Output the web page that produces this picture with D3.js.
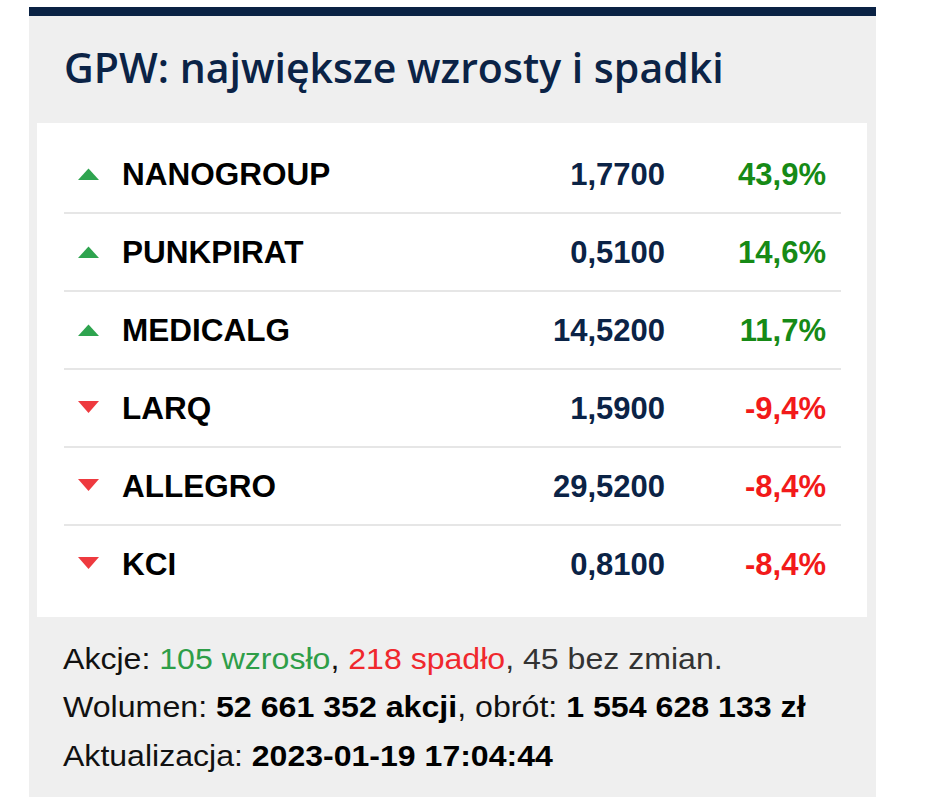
<!DOCTYPE html>
<html>
<head>
<meta charset="utf-8">
<script src="https://cdn.jsdelivr.net/npm/d3@7"></script>
<style>
  html, body { margin: 0; padding: 0; background: #ffffff; }
  svg { display: block; }
</style>
</head>
<body>
<div id="chart"></div>
<script>
// ---- data ----
const title = "GPW: największe wzrosty i spadki";
const names = ["NANOGROUP", "PUNKPIRAT", "MEDICALG", "LARQ", "ALLEGRO", "KCI"];
const prices = [1.77, 0.51, 14.52, 1.59, 29.52, 0.81];
const changes = [43.9, 14.6, 11.7, -9.4, -8.4, -8.4];
const countUp = 105;
const countDown = 218;
const countFlat = 45;
const volume = 52661352;
const turnover = 1554628133;
const updated = "2023-01-19 17:04:44";

// ---- formatting ----
const pl = d3.formatLocale({ decimal: ",", thousands: " ", grouping: [3], currency: ["", " zł"], minus: "-" });
const fPrice = pl.format(".4f");
const fPct = pl.format(".1f");
const fInt = pl.format(",d");

const W = 948, H = 808;
const svg = d3.select("#chart").append("svg").attr("width", W).attr("height", H);

const navy = "#0b2346";
const green = "#168a16";
const red = "#f21a1a";

// panel
svg.append("rect").attr("x", 29).attr("y", 15).attr("width", 847).attr("height", 782).attr("fill", "#efefef");
svg.append("rect").attr("x", 29).attr("y", 7).attr("width", 847).attr("height", 9).attr("fill", "#0a2244");

// fit helper: scale text horizontally so it spans [x0, x1]
function fit(sel, x0, x1) {
  const w = sel.node().getComputedTextLength();
  const s = (x1 - x0) / w;
  sel.attr("transform", `translate(${x0},0) scale(${s},1) translate(${-x0},0)`);
}

// title
const t = svg.append("text")
  .attr("x", 64).attr("y", 83)
  .attr("font-family", "'Open Sans', sans-serif")
  .attr("font-size", 42)
  .attr("font-weight", 600)
  .attr("fill", navy)
  .text(title);
fit(t, 64, 724);

// card
svg.append("rect").attr("x", 37).attr("y", 123).attr("width", 830).attr("height", 494).attr("fill", "#ffffff");

// rows via band scale
const y = d3.scaleBand().domain(names).range([135, 135 + 78 * names.length]).padding(0);
const rows = names.map((n, i) => ({ name: n, price: prices[i], change: changes[i] }));

const g = svg.append("g").attr("font-family", "'Liberation Sans', Arial, sans-serif").attr("font-weight", "bold");

// separators
g.selectAll("line.sep").data(rows.slice(0, -1)).join("line")
  .attr("class", "sep")
  .attr("x1", 64).attr("x2", 841)
  .attr("y1", d => y(d.name) + y.bandwidth())
  .attr("y2", d => y(d.name) + y.bandwidth())
  .attr("stroke", "#e6e6e6").attr("stroke-width", 2);

const cy = d => y(d.name) + y.bandwidth() / 2;

// triangles
g.selectAll("path.tri").data(rows).join("path")
  .attr("class", "tri")
  .attr("d", d => {
    const c = cy(d), x0 = 78, x1 = 99, xm = 88.5;
    return d.change >= 0
      ? `M${x0},${c + 6} L${x1},${c + 6} L${xm},${c - 5.5} Z`
      : `M${x0},${c - 7} L${x1},${c - 7} L${xm},${c + 5} Z`;
  })
  .attr("fill", d => d.change >= 0 ? "#2ea44f" : "#ee3a3f");

// names
g.selectAll("text.name").data(rows).join("text")
  .attr("class", "name")
  .attr("x", 122).attr("y", d => cy(d) + 10.5)
  .attr("font-size", 31.5).attr("fill", "#000000")
  .text(d => d.name);

// prices
g.selectAll("text.price").data(rows).join("text")
  .attr("class", "price")
  .attr("x", 665).attr("y", d => cy(d) + 10.5)
  .attr("text-anchor", "end")
  .attr("font-size", 31).attr("fill", navy)
  .text(d => fPrice(d.price));

// changes
g.selectAll("text.pct").data(rows).join("text")
  .attr("class", "pct")
  .attr("x", 826).attr("y", d => cy(d) + 10.5)
  .attr("text-anchor", "end")
  .attr("font-size", 31)
  .attr("fill", d => d.change >= 0 ? green : red)
  .text(d => fPct(d.change) + "%");

// footer
const foot = svg.append("g").attr("font-family", "'Liberation Sans', Arial, sans-serif").attr("font-size", 30);

const l1 = foot.append("text").attr("x", 63).attr("y", 669).attr("fill", "#111111");
l1.append("tspan").text("Akcje: ");
l1.append("tspan").attr("fill", "#2e9e48").text(`${countUp} wzrosło`);
l1.append("tspan").text(", ");
l1.append("tspan").attr("fill", "#f0282d").text(`${countDown} spadło`);
l1.append("tspan").attr("fill", "#333333").text(`, ${countFlat} bez zmian.`);
fit(l1, 63, 723);

const l2 = foot.append("text").attr("x", 63).attr("y", 717).attr("fill", "#111111");
l2.append("tspan").text("Wolumen: ");
l2.append("tspan").attr("font-weight", "bold").attr("fill", "#000").text(`${fInt(volume)} akcji`);
l2.append("tspan").text(", obrót: ");
l2.append("tspan").attr("font-weight", "bold").attr("fill", "#000").text(`${fInt(turnover)} zł`);
fit(l2, 63, 806);

const l3 = foot.append("text").attr("x", 63).attr("y", 766).attr("fill", "#111111");
l3.append("tspan").text("Aktualizacja: ");
l3.append("tspan").attr("font-weight", "bold").attr("fill", "#000").text(updated);
fit(l3, 63, 553);
</script>
</body>
</html>
